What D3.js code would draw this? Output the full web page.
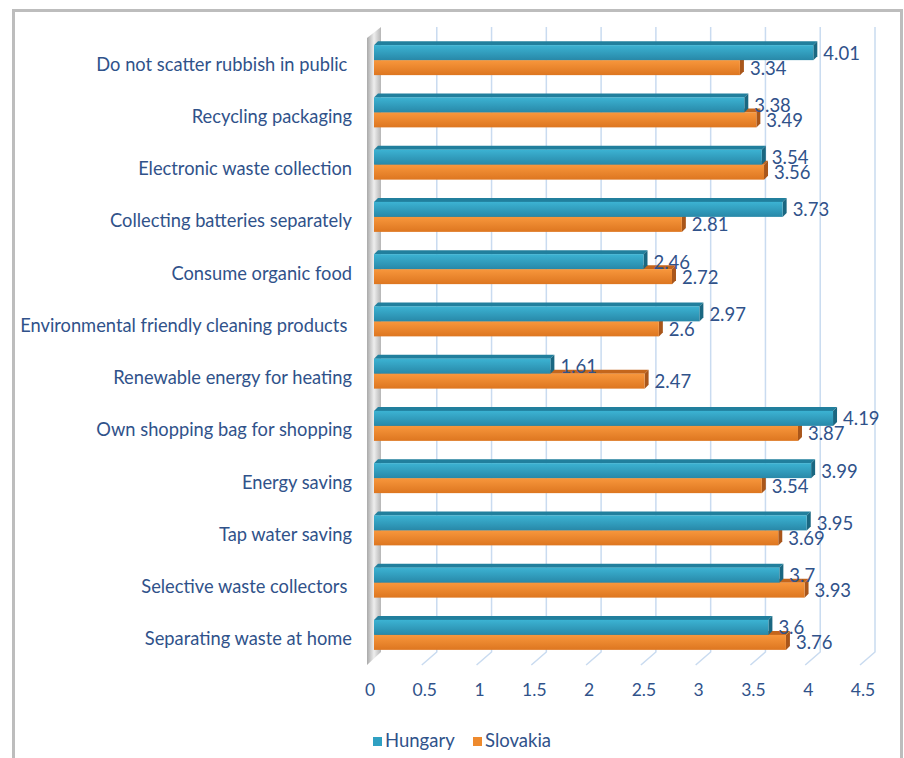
<!DOCTYPE html>
<html>
<head>
<meta charset="utf-8">
<script src="https://cdn.jsdelivr.net/npm/d3@7"></script>
<style>
  body { margin: 0; background: #fff; }
  text { font-family: Lato, "Open Sans", sans-serif; white-space: pre; }
</style>
</head>
<body>
<div id="chart-area"></div>
<script>
// Data
var categories = [
  "Do not scatter rubbish in public ",
  "Recycling packaging",
  "Electronic waste collection",
  "Collecting batteries separately",
  "Consume organic food",
  "Environmental friendly cleaning products ",
  "Renewable energy for heating",
  "Own shopping bag for shopping",
  "Energy saving",
  "Tap water saving",
  "Selective waste collectors ",
  "Separating waste at home"
];
var hungary  = [4.01, 3.38, 3.54, 3.73, 2.46, 2.97, 1.61, 4.19, 3.99, 3.95, 3.7, 3.6];
var slovakia = [3.34, 3.49, 3.56, 2.81, 2.72, 2.6, 2.47, 3.87, 3.54, 3.69, 3.93, 3.76];
var ticks = [0, 0.5, 1, 1.5, 2, 2.5, 3, 3.5, 4, 4.5];
var seriesNames = ["Hungary", "Slovakia"];

var W = 904, H = 758;
var textColor = "#30528a";
var depth = 4;          // bar 3D depth
var backDx = 8, backDy = -13;  // back wall offset for gridlines

var svg = d3.select("#chart-area").append("svg")
    .attr("width", W)
    .attr("height", H);

// gradients
var defs = svg.append("defs");
function vGrad(id, c1, c2) {
  var g = defs.append("linearGradient").attr("id", id)
    .attr("x1", 0).attr("y1", 0).attr("x2", 0).attr("y2", 1);
  g.append("stop").attr("offset", "0%").attr("stop-color", c1);
  g.append("stop").attr("offset", "100%").attr("stop-color", c2);
}
vGrad("gH", "#3cb3d3", "#2888a8");
vGrad("gS", "#f8973c", "#dd7620");
var wg = defs.append("linearGradient").attr("id", "gWall")
  .attr("x1", 0).attr("y1", 0).attr("x2", 1).attr("y2", 0);
wg.append("stop").attr("offset", "0%").attr("stop-color", "#a9a9a9");
wg.append("stop").attr("offset", "50%").attr("stop-color", "#eeeeee");
wg.append("stop").attr("offset", "100%").attr("stop-color", "#b5b5b5");

// frame
svg.append("path")
  .attr("d", "M13.5,770 L13.5,10.5 L901.5,10.5 L901.5,770")
  .attr("fill", "none")
  .attr("stroke", "#bdbdbd")
  .attr("stroke-width", 3);

// Scales
var x = d3.scaleLinear().domain([0, 4.5]).range([374, 867]);
var y = d3.scaleBand().domain(categories).range([34, 661]);

var floorY = 665;

// gridlines (floor diagonal + back vertical)
var grid = svg.append("g");
ticks.forEach(function(t) {
  if (t === 0) return;
  grid.append("path")
    .attr("d", "M" + (x(t) - 7) + "," + floorY +
               " L" + (x(t) + backDx) + "," + (floorY + backDy) +
               " L" + (x(t) + backDx) + ",27")
    .attr("fill", "none")
    .attr("stroke", "#c9dbf0")
    .attr("stroke-width", 1.5);
});

// left wall
svg.append("path")
  .attr("d", "M367,38 L381,27 L381," + (floorY + backDy) + " L367," + floorY + " Z")
  .attr("fill", "url(#gWall)");

// axis tick labels
svg.append("g").selectAll("text")
  .data(ticks)
  .enter().append("text")
    .attr("x", function(d) { return x(d) - 4; })
    .attr("y", 690)
    .attr("dy", "0.35em")
    .attr("text-anchor", "middle")
    .attr("font-size", "17.5px")
    .attr("fill", textColor)
    .text(function(d) { return d; });

// category labels
svg.append("g").selectAll("text")
  .data(categories)
  .enter().append("text")
    .attr("x", 352)
    .attr("y", function(d) { return y(d) + y.bandwidth() / 2 + 4; })
    .attr("dy", "0.35em")
    .attr("text-anchor", "end")
    .attr("font-size", "18.3px")
    .attr("fill", textColor)
    .text(function(d) { return d; });

// bars
var barH = 15;
function drawBar(g, v, top, fill, topCol, sideCol) {
  var x0 = x(0), x1 = x(v);
  g.append("path")
    .attr("d", "M" + x0 + "," + top + " L" + (x0 + depth) + "," + (top - depth) +
               " L" + (x1 + depth) + "," + (top - depth) + " L" + x1 + "," + top + " Z")
    .attr("fill", topCol);
  g.append("path")
    .attr("d", "M" + x1 + "," + top + " L" + (x1 + depth) + "," + (top - depth) +
               " L" + (x1 + depth) + "," + (top + barH - depth) + " L" + x1 + "," + (top + barH) + " Z")
    .attr("fill", sideCol);
  g.append("rect")
    .attr("x", x0)
    .attr("y", top)
    .attr("width", x1 - x0)
    .attr("height", barH)
    .attr("fill", fill);
}

var bars = svg.append("g");
categories.forEach(function(c, i) {
  var mid = y(c) + y.bandwidth() / 2;
  drawBar(bars, slovakia[i], mid, "url(#gS)", "#c4661c", "#a9561a");
  drawBar(bars, hungary[i], mid - barH, "url(#gH)", "#217f9d", "#1a6781");
});

// value labels
var labels = svg.append("g")
  .attr("font-size", "18.5px")
  .attr("fill", textColor);
categories.forEach(function(c, i) {
  var mid = y(c) + y.bandwidth() / 2;
  labels.append("text")
    .attr("x", x(hungary[i]) + 10)
    .attr("y", mid - 7)
    .attr("dy", "0.35em")
    .text(hungary[i]);
  labels.append("text")
    .attr("x", x(slovakia[i]) + 10)
    .attr("y", mid + 8)
    .attr("dy", "0.35em")
    .text(slovakia[i]);
});

// legend
var legendColors = ["#2fa0c2", "#ee8a2e"];
var legendX = [373, 473];
var legend = svg.append("g");
seriesNames.forEach(function(s, i) {
  legend.append("rect")
    .attr("x", legendX[i])
    .attr("y", 737)
    .attr("width", 9)
    .attr("height", 9)
    .attr("fill", legendColors[i]);
  legend.append("text")
    .attr("x", legendX[i] + 12)
    .attr("y", 741)
    .attr("dy", "0.35em")
    .attr("font-size", "18.5px")
    .attr("fill", textColor)
    .text(s);
});
</script>
</body>
</html>
